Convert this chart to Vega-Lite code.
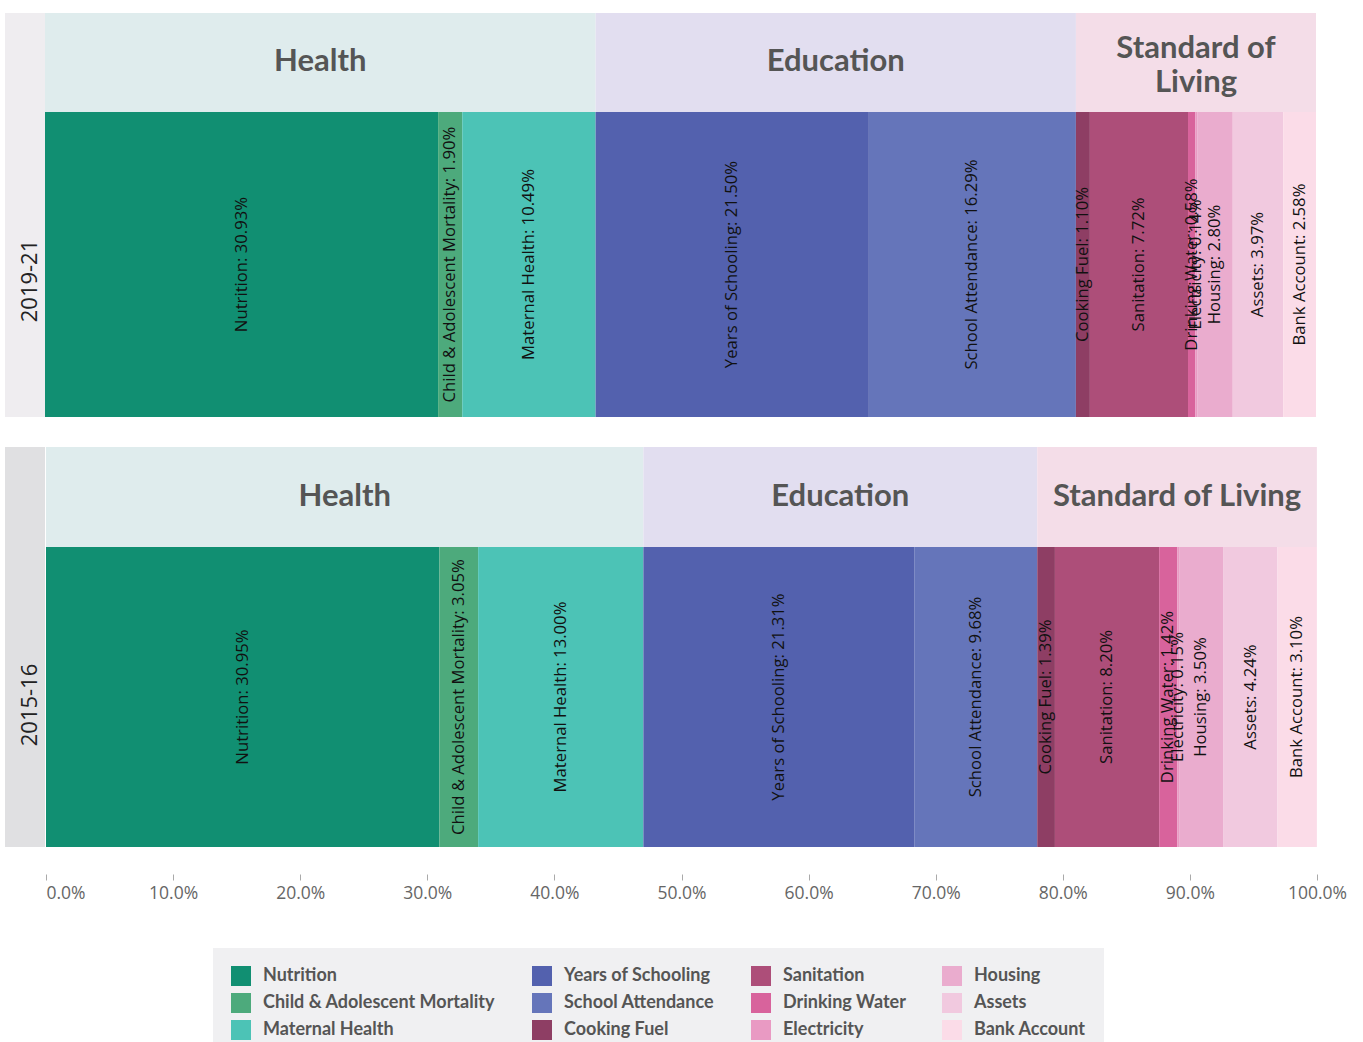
{
  "$schema": "https://vega.github.io/schema/vega-lite/v6.json",
  "background": "white",
  "padding": {"left": 5, "top": 13, "right": 0, "bottom": 160},
  "config": {"view": {"stroke": null}, "concat": {"spacing": 0}},
  "datasets": {
    "mpi": [
      {"period": "2019-21", "category": "Health", "indicator": "Nutrition", "value": 30.93, "order": 1},
      {"period": "2019-21", "category": "Health", "indicator": "Child & Adolescent Mortality", "value": 1.90, "order": 2},
      {"period": "2019-21", "category": "Health", "indicator": "Maternal Health", "value": 10.49, "order": 3},
      {"period": "2019-21", "category": "Education", "indicator": "Years of Schooling", "value": 21.50, "order": 4},
      {"period": "2019-21", "category": "Education", "indicator": "School Attendance", "value": 16.29, "order": 5},
      {"period": "2019-21", "category": "Standard of Living", "indicator": "Cooking Fuel", "value": 1.10, "order": 6},
      {"period": "2019-21", "category": "Standard of Living", "indicator": "Sanitation", "value": 7.72, "order": 7},
      {"period": "2019-21", "category": "Standard of Living", "indicator": "Drinking Water", "value": 0.58, "order": 8},
      {"period": "2019-21", "category": "Standard of Living", "indicator": "Electricity", "value": 0.14, "order": 9},
      {"period": "2019-21", "category": "Standard of Living", "indicator": "Housing", "value": 2.80, "order": 10},
      {"period": "2019-21", "category": "Standard of Living", "indicator": "Assets", "value": 3.97, "order": 11},
      {"period": "2019-21", "category": "Standard of Living", "indicator": "Bank Account", "value": 2.58, "order": 12},
      {"period": "2015-16", "category": "Health", "indicator": "Nutrition", "value": 30.95, "order": 1},
      {"period": "2015-16", "category": "Health", "indicator": "Child & Adolescent Mortality", "value": 3.05, "order": 2},
      {"period": "2015-16", "category": "Health", "indicator": "Maternal Health", "value": 13.00, "order": 3},
      {"period": "2015-16", "category": "Education", "indicator": "Years of Schooling", "value": 21.31, "order": 4},
      {"period": "2015-16", "category": "Education", "indicator": "School Attendance", "value": 9.68, "order": 5},
      {"period": "2015-16", "category": "Standard of Living", "indicator": "Cooking Fuel", "value": 1.39, "order": 6},
      {"period": "2015-16", "category": "Standard of Living", "indicator": "Sanitation", "value": 8.20, "order": 7},
      {"period": "2015-16", "category": "Standard of Living", "indicator": "Drinking Water", "value": 1.42, "order": 8},
      {"period": "2015-16", "category": "Standard of Living", "indicator": "Electricity", "value": 0.15, "order": 9},
      {"period": "2015-16", "category": "Standard of Living", "indicator": "Housing", "value": 3.50, "order": 10},
      {"period": "2015-16", "category": "Standard of Living", "indicator": "Assets", "value": 4.24, "order": 11},
      {"period": "2015-16", "category": "Standard of Living", "indicator": "Bank Account", "value": 3.10, "order": 12}
    ]
  },
  "spacing": 30,
  "vconcat": [
    {
      "spacing": 0,
      "hconcat": [
        {
          "width": 40, "height": 404,
          "view": {"fill": "#efedf0", "stroke": null},
          "data": {"values": [{"period": "2019-21"}]},
          "mark": {"type": "text", "angle": 270, "font": "Open Sans", "fontSize": 22, "color": "#222", "dx": -66, "dy": 5, "baseline": "middle"},
          "encoding": {"text": {"field": "period", "type": "nominal"}}
        },
        {
          "spacing": 0,
          "vconcat": [
            {
              "width": 1271, "height": 99,
              "data": {"name": "mpi"},
              "transform": [
                {"filter": "datum.period == '2019-21'"},
                {"aggregate": [{"op": "sum", "field": "value", "as": "total"}, {"op": "min", "field": "order", "as": "order"}], "groupby": ["period", "category"]},
                {"stack": "total", "groupby": ["period"], "sort": [{"field": "order", "order": "ascending"}], "as": ["x0", "x1"]},
                {"calculate": "(datum.x0 + datum.x1) / 2", "as": "mid"},
                {"calculate": "datum.category == 'Standard of Living' ? ['Standard of', 'Living'] : datum.category", "as": "label"}
              ],
              "layer": [
                {
                  "mark": {"type": "rect"},
                  "encoding": {
                    "x": {"field": "x0", "type": "quantitative", "scale": {"domain": [0, 100], "nice": false, "zero": false}, "axis": null},
                    "x2": {"field": "x1"},
                    "fill": {"field": "category", "type": "nominal", "scale": {"domain": ["Health", "Education", "Standard of Living"], "range": ["#dfeced", "#e2def0", "#f4dde8"]}, "legend": null}
                  }
                },
                {
                  "mark": {"type": "text", "font": "Lato", "fontSize": 31, "fontWeight": "bold", "color": "#555555", "lineHeight": 34, "baseline": "middle", "dy": {"expr": "isArray(datum.label) ? -14 : -1"}},
                  "encoding": {
                    "x": {"field": "mid", "type": "quantitative"},
                    "text": {"field": "label"}
                  }
                }
              ]
            },
            {
              "width": 1271, "height": 305,
              "data": {"name": "mpi"},
              "transform": [
                {"filter": "datum.period == '2019-21'"},
                {"stack": "value", "groupby": ["period"], "sort": [{"field": "order", "order": "ascending"}], "as": ["x0", "x1"]},
                {"calculate": "(datum.x0 + datum.x1) / 2", "as": "mid"},
                {"calculate": "datum.indicator + ': ' + format(datum.value, '.2f') + '%'", "as": "label"}
              ],
              "layer": [
                {
                  "mark": {"type": "rect"},
                  "encoding": {
                    "x": {"field": "x0", "type": "quantitative", "scale": {"domain": [0, 100], "nice": false, "zero": false}, "axis": null},
                    "x2": {"field": "x1"},
                    "color": {
                      "field": "indicator", "type": "nominal",
                      "scale": {
                        "domain": ["Nutrition", "Child & Adolescent Mortality", "Maternal Health", "Years of Schooling", "School Attendance", "Cooking Fuel", "Sanitation", "Drinking Water", "Electricity", "Housing", "Assets", "Bank Account"],
                        "range": ["#118f72", "#4daa7c", "#4cc3b6", "#5361ae", "#6575ba", "#8e3e64", "#ad4e79", "#d8639c", "#e99ac3", "#eaacce", "#f1c9df", "#fbdce8"]
                      },
                      "legend": {
                        "title": null, "orient": "none", "legendX": 208, "legendY": 935,
                        "columns": 4, "columnPadding": 36, "rowPadding": 7,
                        "padding": 18, "fillColor": "#f0f0f2",
                        "symbolType": "square", "symbolSize": 400, "symbolStrokeWidth": 0, "symbolOpacity": 1,
                        "labelFont": "Lato", "labelFontSize": 18, "labelFontWeight": "bold", "labelColor": "#555555",
                        "labelOffset": 12, "labelLimit": 400
                      }
                    }
                  }
                },
                {
                  "mark": {"type": "text", "angle": 270, "font": "Open Sans", "fontSize": 16.7, "color": "#111", "baseline": "middle", "align": "center"},
                  "encoding": {
                    "x": {"field": "mid", "type": "quantitative"},
                    "text": {"field": "label"}
                  }
                }
              ]
            }
          ]
        }
      ]
    },
    {
      "spacing": 0,
      "hconcat": [
        {
          "width": 40, "height": 400,
          "view": {"fill": "#e0e0e2", "stroke": null},
          "data": {"values": [{"period": "2015-16"}]},
          "mark": {"type": "text", "angle": 270, "font": "Open Sans", "fontSize": 22, "color": "#222", "dx": -58, "dy": 5, "baseline": "middle"},
          "encoding": {"text": {"field": "period", "type": "nominal"}}
        },
        {
          "spacing": 0,
          "vconcat": [
            {
              "width": 1271, "height": 100,
              "data": {"name": "mpi"},
              "transform": [
                {"filter": "datum.period == '2015-16'"},
                {"aggregate": [{"op": "sum", "field": "value", "as": "total"}, {"op": "min", "field": "order", "as": "order"}], "groupby": ["period", "category"]},
                {"stack": "total", "groupby": ["period"], "sort": [{"field": "order", "order": "ascending"}], "as": ["x0", "x1"]},
                {"calculate": "(datum.x0 + datum.x1) / 2", "as": "mid"}
              ],
              "layer": [
                {
                  "mark": {"type": "rect"},
                  "encoding": {
                    "x": {"field": "x0", "type": "quantitative", "scale": {"domain": [0, 100], "nice": false, "zero": false}, "axis": null},
                    "x2": {"field": "x1"},
                    "fill": {"field": "category", "type": "nominal", "scale": {"domain": ["Health", "Education", "Standard of Living"], "range": ["#dfeced", "#e2def0", "#f4dde8"]}, "legend": null}
                  }
                },
                {
                  "mark": {"type": "text", "font": "Lato", "fontSize": 31, "fontWeight": "bold", "color": "#555555", "baseline": "middle"},
                  "encoding": {
                    "x": {"field": "mid", "type": "quantitative"},
                    "text": {"field": "category"}
                  }
                }
              ]
            },
            {
              "width": 1271, "height": 300,
              "data": {"name": "mpi"},
              "transform": [
                {"filter": "datum.period == '2015-16'"},
                {"stack": "value", "groupby": ["period"], "sort": [{"field": "order", "order": "ascending"}], "as": ["x0", "x1"]},
                {"calculate": "(datum.x0 + datum.x1) / 2", "as": "mid"},
                {"calculate": "datum.indicator + ': ' + format(datum.value, '.2f') + '%'", "as": "label"}
              ],
              "layer": [
                {
                  "mark": {"type": "rect"},
                  "encoding": {
                    "x": {
                      "field": "x0", "type": "quantitative",
                      "scale": {"domain": [0, 100], "nice": false, "zero": false},
                      "axis": {
                        "orient": "bottom", "offset": 27, "title": null,
                        "values": [0, 10, 20, 30, 40, 50, 60, 70, 80, 90, 100],
                        "labelExpr": "format(datum.value, '.1f') + '%'",
                        "domain": false, "grid": false,
                        "tickColor": "#aaaaaa", "tickSize": 6, "tickWidth": 1,
                        "labelFont": "Open Sans", "labelFontSize": 17.5, "labelColor": "#666666",
                        "labelPadding": 4, "labelFlush": false, "labelOverlap": false,
                        "labelAlign": {"condition": {"test": "datum.value == 0", "value": "left"}, "value": "center"}
                      }
                    },
                    "x2": {"field": "x1"},
                    "color": {
                      "field": "indicator", "type": "nominal",
                      "scale": {
                        "domain": ["Nutrition", "Child & Adolescent Mortality", "Maternal Health", "Years of Schooling", "School Attendance", "Cooking Fuel", "Sanitation", "Drinking Water", "Electricity", "Housing", "Assets", "Bank Account"],
                        "range": ["#118f72", "#4daa7c", "#4cc3b6", "#5361ae", "#6575ba", "#8e3e64", "#ad4e79", "#d8639c", "#e99ac3", "#eaacce", "#f1c9df", "#fbdce8"]
                      },
                      "legend": {
                        "title": null, "orient": "none", "legendX": 208, "legendY": 935,
                        "columns": 4, "columnPadding": 36, "rowPadding": 7,
                        "padding": 18, "fillColor": "#f0f0f2",
                        "symbolType": "square", "symbolSize": 400, "symbolStrokeWidth": 0, "symbolOpacity": 1,
                        "labelFont": "Lato", "labelFontSize": 18, "labelFontWeight": "bold", "labelColor": "#555555",
                        "labelOffset": 12, "labelLimit": 400
                      }
                    }
                  }
                },
                {
                  "mark": {"type": "text", "angle": 270, "font": "Open Sans", "fontSize": 16.7, "color": "#111", "baseline": "middle", "align": "center"},
                  "encoding": {
                    "x": {"field": "mid", "type": "quantitative"},
                    "text": {"field": "label"}
                  }
                }
              ]
            }
          ]
        }
      ]
    }
  ]
}
